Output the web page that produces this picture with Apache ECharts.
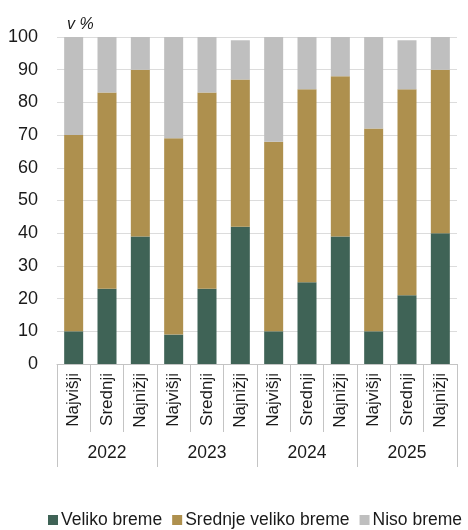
<!DOCTYPE html>
<html>
<head>
<meta charset="utf-8">
<script src="https://cdn.jsdelivr.net/npm/echarts@6/dist/echarts.min.js"></script>
<style>
  html, body { margin: 0; padding: 0; background: #fff; }
  #chart { width: 468px; height: 530px; }
</style>
</head>
<body>
<div id="chart"></div>
<script>
var categories = ['Najvišji', 'Srednji', 'Najnižji', 'Najvišji', 'Srednji', 'Najnižji',
                  'Najvišji', 'Srednji', 'Najnižji', 'Najvišji', 'Srednji', 'Najnižji'];
var years = ['2022', '2023', '2024', '2025'];

var veliko  = [10, 23, 39, 9, 23, 42, 10, 25, 39, 10, 21, 40];
var srednje = [60, 60, 51, 60, 60, 45, 58, 59, 49, 62, 63, 50];
var niso    = [30, 17, 10, 31, 17, 12, 32, 16, 12, 28, 15, 10];

var font = 'Liberation Sans, Arial, sans-serif';
var txt = '#1a1a1a';
var grey = '#c4c4c4';

var myChart = echarts.init(document.getElementById('chart'));

var option = {
    animation: false,
    textStyle: { fontFamily: font, color: txt },
    title: {
        text: 'v %',
        left: 62,
        top: 12,
        textStyle: { fontSize: 16, fontStyle: 'italic', fontWeight: 'normal', color: txt, fontFamily: font }
    },
    legend: {
        left: 48,
        width: 420,
        bottom: 1,
        padding: 0,
        itemWidth: 10,
        itemHeight: 10,
        itemGap: 10,
        icon: 'rect',
        textStyle: { fontSize: 17.5, color: txt, fontFamily: font, padding: [0, 0, 0, -2] },
        data: ['Veliko breme', 'Srednje veliko breme', 'Niso breme']
    },
    grid: {
        left: 57,
        right: 11,
        top: 37,
        bottom: 166
    },
    xAxis: [
        {
            type: 'category',
            data: categories,
            axisLine: { show: true, lineStyle: { color: grey } },
            axisTick: { show: true, interval: 0, length: 68, lineStyle: { color: grey } },
            axisLabel: { interval: 0, rotate: 90, fontSize: 17, color: txt, margin: 9, fontFamily: font }
        },
        {
            type: 'category',
            data: years,
            position: 'bottom',
            offset: 68,
            axisLine: { show: false },
            axisTick: { show: true, interval: 0, length: 35, lineStyle: { color: grey } },
            axisLabel: { interval: 0, fontSize: 17.5, color: txt, margin: 12, fontFamily: font }
        }
    ],
    yAxis: {
        type: 'value',
        min: 0,
        max: 100,
        interval: 10,
        axisLine: { show: false },
        axisTick: { show: false },
        axisLabel: { fontSize: 18, color: txt, margin: 19, fontFamily: font },
        splitLine: { lineStyle: { color: '#dcdcdc' } }
    },
    series: [
        {
            name: 'Veliko breme',
            type: 'bar',
            stack: 'a',
            barWidth: 19,
            data: veliko,
            itemStyle: { color: '#3f6356' }
        },
        {
            name: 'Srednje veliko breme',
            type: 'bar',
            stack: 'a',
            barWidth: 19,
            data: srednje,
            itemStyle: { color: '#ae904e' }
        },
        {
            name: 'Niso breme',
            type: 'bar',
            stack: 'a',
            barWidth: 19,
            data: niso,
            itemStyle: { color: '#bfbfbf' }
        }
    ]
};

myChart.setOption(option);
</script>
</body>
</html>
